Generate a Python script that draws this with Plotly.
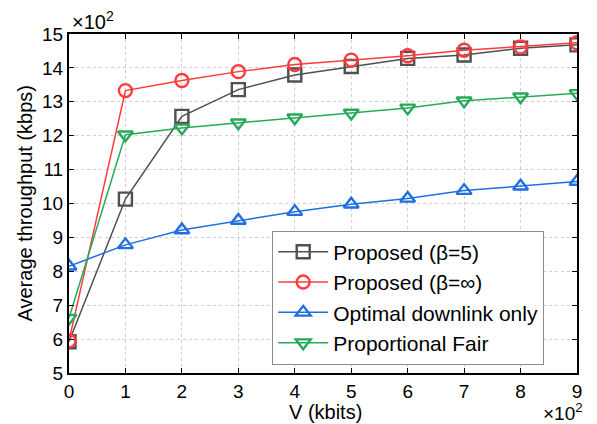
import plotly.graph_objects as go

V = [0, 1, 2, 3, 4, 5, 6, 7, 8, 9]
proposed_b5 = [5.92, 10.13, 12.57, 13.36, 13.79, 14.04, 14.28, 14.38, 14.58, 14.68]
proposed_inf = [5.95, 13.33, 13.63, 13.89, 14.10, 14.23, 14.36, 14.52, 14.62, 14.74]
optimal_dl = [8.15, 8.78, 9.22, 9.50, 9.76, 9.98, 10.15, 10.38, 10.51, 10.65]
prop_fair = [6.62, 12.03, 12.23, 12.38, 12.53, 12.67, 12.82, 13.03, 13.15, 13.25]

names = ["Proposed (β=5)", "Proposed (β=∞)", "Optimal downlink only", "Proportional Fair"]
colors = ["#505050", "#ff3b3b", "#1f6fe0", "#26aa5a"]
symbols = ["square-open", "circle-open", "triangle-up-open", "triangle-down-open"]
series = [proposed_b5, proposed_inf, optimal_dl, prop_fair]

FONT = "Liberation Sans, Arial, sans-serif"

fig = go.Figure()
for name, col, sym, ys in zip(names, colors, symbols, series):
    fig.add_trace(go.Scatter(
        x=V, y=ys, name=name, mode="lines+markers",
        line=dict(color=col, width=1.5),
        marker=dict(symbol=sym, size=13, color=col, line=dict(color=col, width=2.4)),
    ))

axis_common = dict(
    showline=True, linecolor="black", linewidth=2, mirror="ticks",
    ticks="inside", ticklen=5, tickwidth=1, tickcolor="black",
    showgrid=True, gridcolor="#cfcfcf", griddash="dot", gridwidth=1,
    zeroline=False, tickfont=dict(family=FONT, size=19, color="black"),
    automargin=False,
)

# The page body has an 8px default margin, so the figure is 8px smaller
fig.update_layout(
    width=589, height=416,
    margin=dict(l=61, r=20, t=26, b=51),
    paper_bgcolor="white", plot_bgcolor="white",
    font=dict(family=FONT, color="black"),
    xaxis=dict(range=[0, 9], dtick=1, tick0=0, **axis_common),
    yaxis=dict(range=[5, 15], dtick=1, tick0=5, **axis_common),
    legend=dict(x=0.40, y=0.42, xanchor="left", yanchor="top",
                bgcolor="white", bordercolor="#8c8c8c", borderwidth=1,
                font=dict(family=FONT, size=21, color="black"),
                tracegroupgap=0, itemwidth=50),
    showlegend=True,
)

# axis titles
fig.add_annotation(xref="paper", yref="paper", x=0.5, y=0.0, xanchor="center", yanchor="middle",
                   text="V (kbits)", showarrow=False,
                   font=dict(family=FONT, size=20, color="black"), xshift=2, yshift=-39)
fig.add_annotation(xref="paper", yref="paper", x=0.0, y=0.5, xanchor="center", yanchor="middle",
                   text="Average throughput (kbps)", showarrow=False, textangle=-90,
                   font=dict(family=FONT, size=20, color="black"), xshift=-45)

# exponent labels
fig.add_annotation(xref="paper", yref="paper", x=0.0, y=1.0, xanchor="left", yanchor="bottom",
                   text="×10<sup>2</sup>", showarrow=False,
                   font=dict(family=FONT, size=20, color="black"), xshift=1, yshift=-1)
fig.add_annotation(xref="paper", yref="paper", x=1.0, y=0.0, xanchor="right", yanchor="top",
                   text="×10<sup>2</sup>", showarrow=False,
                   font=dict(family=FONT, size=19, color="black"), xshift=8, yshift=-25)

fig.write_html("out.html")
